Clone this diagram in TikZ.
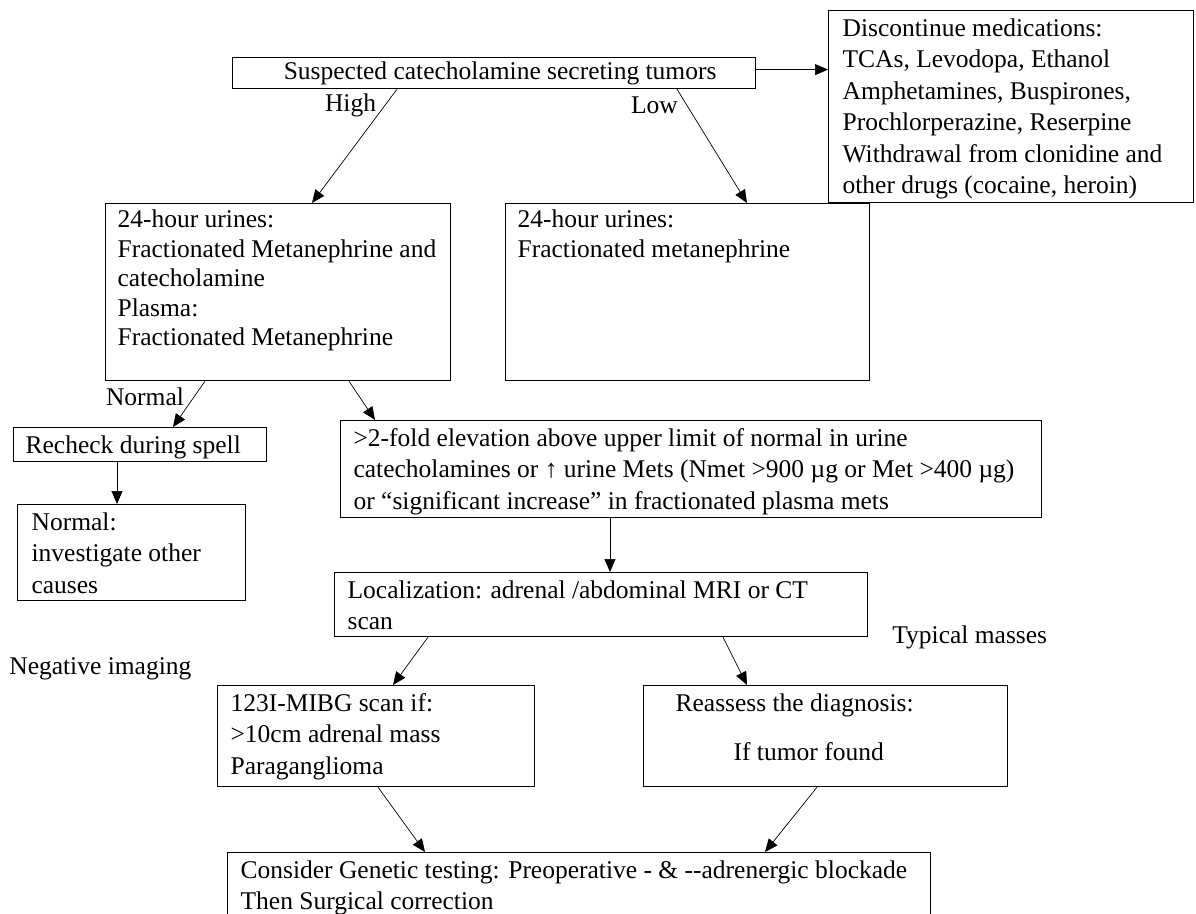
\documentclass[tikz,border=0pt]{standalone}
\usepackage{fontspec}
\setmainfont{Liberation Serif}
\usetikzlibrary{arrows.meta}

\begin{document}
\begin{tikzpicture}[->,>={Triangle[length=13pt,width=11pt]},line width=0.7pt,
	x=1pt,y=-1pt,font=\fontsize{25.5}{31.5}\selectfont]
	\tikzstyle{box}=[draw,line width=1.2pt,anchor=north west,inner xsep=13pt,inner ysep=3.5pt]
	\tikzstyle{lbl}=[inner sep=0pt]
	\useasboundingbox (0,0) rectangle (1196,913);
	% boxes
	\node[box,minimum width=523pt,minimum height=31pt,inner sep=0pt] (top) at (232,57) {\hspace*{12pt}Suspected catecholamine secreting tumors};
	\node[box,inner xsep=14pt] (disc) at (828,10) {\parbox[t][185pt][t]{337pt}{\strut Discontinue medications:\\TCAs, Levodopa, Ethanol\\Amphetamines, Buspirones,\\Prochlorperazine, Reserpine\\Withdrawal from clonidine and\\other drugs (cocaine, heroin)}};
	\node[box,inner xsep=12pt] (urnhigh) at (105,203) {\parbox[t][170pt][t]{321pt}{\fontsize{25.5}{29.5}\selectfont\strut 24-hour urines:\\Fractionated Metanephrine and\\catecholamine\\Plasma:\\Fractionated Metanephrine}};
	\node[box,inner xsep=12pt] (urnlow) at (505,203) {\parbox[t][170pt][t]{340pt}{\fontsize{25.5}{29.5}\selectfont\strut 24-hour urines:\\Fractionated metanephrine}};
	\node[box,inner xsep=12pt] (recheck) at (13,427) {\parbox[t][27pt][t]{229pt}{\strut Recheck during spell}};
	\node[box,inner xsep=14pt] (other) at (17,504) {\parbox[t][89pt][t]{200pt}{\strut Normal:\\investigate other\\causes}};
	\node[box] (elev) at (340,420) {\parbox[t][90pt][t]{675pt}{\strut >2-fold elevation above upper limit of normal in urine\\catecholamines or ↑ urine Mets (Nmet >900 µg or Met >400 µg)\\or “significant increase” in fractionated plasma mets}};
	\node[box] (local) at (334,572) {\parbox[t][57pt][t]{507pt}{\strut Localization: adrenal /abdominal MRI or CT\\scan}};
	\node[box] (mibg) at (217,685) {\parbox[t][94pt][t]{291pt}{\strut 123I-MIBG scan if:\\>10cm adrenal mass\\Paraganglioma}};
	\node[box] (reassess) at (643,685) {\parbox[t][94pt][t]{338pt}{\strut\hspace*{19pt}Reassess the diagnosis:\\[17.5pt]\hspace*{77pt}If tumor found}};
	\node[box] (final) at (227,852) {\parbox[t][70pt][t]{677pt}{\strut Consider Genetic testing: Preoperative - \& -{}-adrenergic blockade\\Then Surgical correction}};
	% labels
	\node[lbl] (lblhigh) at (350.5,105) {High};
	\node[lbl] (lbllow) at (654.5,105) {Low};
	\node[lbl] (lblnormal) at (145,397) {Normal};
	\node[lbl,anchor=west] (lblneg) at (9,669) {Negative imaging};
	\node[lbl,anchor=west] (lbltyp) at (892,637) {Typical masses};
	% arrows
	\path
	([xshift=165pt]top.south west)     edge ([xshift=207pt]urnhigh.north west)
	([xshift=445pt]top.south west)     edge ([xshift=242pt]urnlow.north west)
	([yshift=3.5pt]top.east)           edge ([yshift=3.5pt]top.east -| disc.west)
	([xshift=100pt]urnhigh.south west) edge ([xshift=160pt]recheck.north west)
	([xshift=244pt]urnhigh.south west) edge ([xshift=35pt]elev.north west)
	([xshift=104pt]recheck.south west) edge ([xshift=100pt]other.north west)
	([xshift=270pt]elev.south west)    edge ([xshift=276pt]local.north west)
	([xshift=94pt]local.south west)    edge ([xshift=176pt]mibg.north west)
	([xshift=389pt]local.south west)   edge ([xshift=104pt]reassess.north west)
	([xshift=161pt]mibg.south west)    edge ([xshift=198pt]final.north west)
	([xshift=174pt]reassess.south west) edge ([xshift=538pt]final.north west);
\end{tikzpicture}
\end{document}
